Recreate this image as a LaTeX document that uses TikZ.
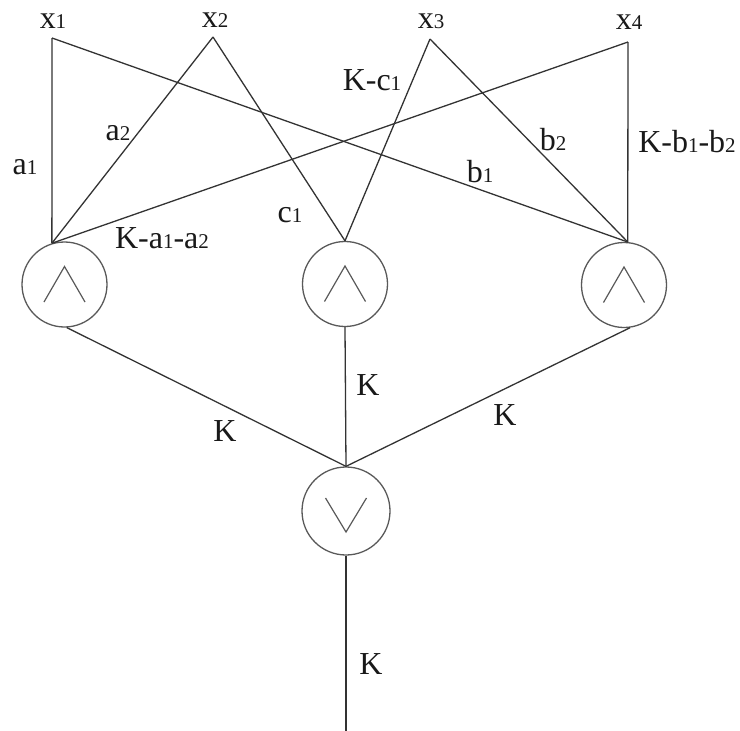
\documentclass[tikz,border=0pt]{standalone}
\usepackage{fontspec}
\setmainfont{Liberation Serif}
\newcommand\dg[1]{{\fontsize{21}{21}\selectfont #1}}
\begin{document}
\begin{tikzpicture}[x=1pt,y=-1pt,
  wire/.style={draw=black!80,line width=1.3pt},
  gate/.style={circle,draw=black!65,line width=1.3pt,minimum size=85pt,inner sep=0pt},
  lbl/.style={inner sep=0pt,font=\fontsize{32}{32}\selectfont,text=black!90},
  chev/.style={draw=black!65,line width=1.2pt}]
\useasboundingbox (0,0) rectangle (740,731);
% inputs
\node[lbl] (x1) at (53,21) {x\dg{1}};
\node[lbl] (x2) at (215,20) {x\dg{2}};
\node[lbl] (x3) at (431,21) {x\dg{3}};
\node[lbl] (x4) at (629,22) {x\dg{4}};
\coordinate (p1) at (52,38);
\coordinate (p2) at (213,37);
\coordinate (p3) at (430,39);
\coordinate (p4) at (628,42);
% gates
\node[gate] (g1) at (64.5,284.5) {};
\node[gate] (g2) at (345,284) {};
\node[gate] (g3) at (624,285) {};
\node[gate,minimum size=88pt] (g4) at (346,511) {};
\coordinate (out) at (346,731);
% AND / OR symbols
\foreach \g in {g1,g2,g3}{
  \draw[chev] ([shift={(-20.5,17.5)}]\g.center) -- ([shift={(0,-18)}]\g.center) -- ([shift={(20.5,17.5)}]\g.center);
}
\draw[chev] ([shift={(-20.5,-13)}]g4.center) -- ([shift={(0,21)}]g4.center) -- ([shift={(20.5,-13)}]g4.center);
% connectors
\draw[wire] (p1) -- (g1.107);
\draw[wire] (p1) -- (g3.85);
\draw[wire] (p2) -- (g1.107);
\draw[wire] (p2) -- (g2.north);
\draw[wire] (p3) -- (g2.north);
\draw[wire] (p3) -- (g3.85);
\draw[wire] (p4) -- (g3.85);
\draw[wire] (p4) -- (g1.107);
\draw[wire] (g1.-87) -- (g4.north);
\draw[wire] (g2.south) -- (g4.north);
\draw[wire] (g3.-82) -- (g4.north);
\draw[wire] (g4.south) -- (out);
% weights
\node[lbl] (la1) at (25,167) {a\dg{1}};
\node[lbl] (la2) at (118,133) {a\dg{2}};
\node[lbl] (lc1) at (290,215) {c\dg{1}};
\node[lbl] (lka) at (162,238) {K-a\dg{1}-a\dg{2}};
\node[lbl] (lkc) at (372,80) {K-c\dg{1}};
\node[lbl] (lb2) at (553,140) {b\dg{2}};
\node[lbl] (lb1) at (480,172) {b\dg{1}};
\node[lbl] (lkb) at (687,142) {K-b\dg{1}-b\dg{2}};
\node[lbl] (k1) at (225,431) {K};
\node[lbl] (k2) at (368,385) {K};
\node[lbl] (k3) at (505,415) {K};
\node[lbl] (k4) at (371,664) {K};
\end{tikzpicture}
\end{document}
